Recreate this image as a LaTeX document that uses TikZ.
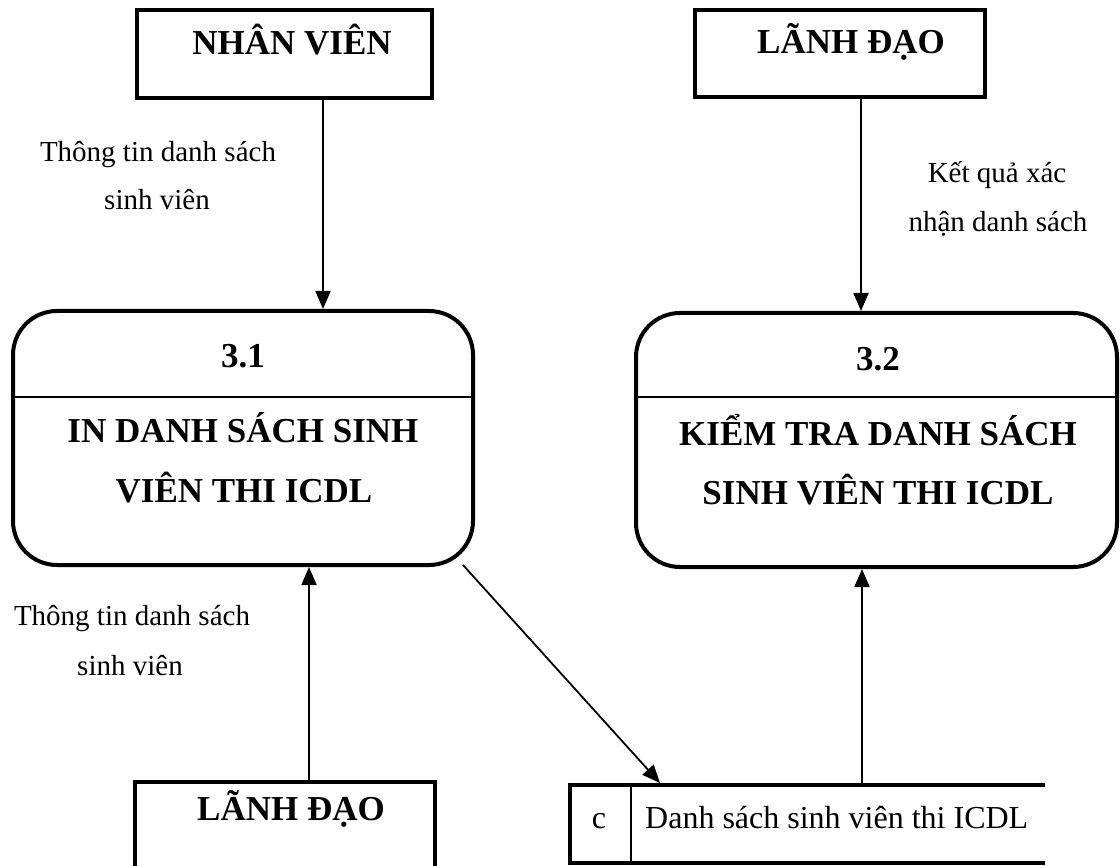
\documentclass[tikz,border=0pt]{standalone}
\usepackage{fontspec}
\setmainfont{Liberation Serif}
\usetikzlibrary{arrows.meta}
\begin{document}
\begin{tikzpicture}[x=1pt,y=-1pt,
  entbox/.style={draw,line width=4pt,rectangle,inner sep=0pt},
  procbox/.style={draw,line width=4pt,rectangle,rounded corners=44pt,inner sep=0pt},
  bigtxt/.style={font=\fontsize{35}{40}\selectfont\bfseries,inner sep=0pt,anchor=base},
  lbltxt/.style={font=\fontsize{29}{34}\selectfont,inner sep=0pt,anchor=base},
  storetxt/.style={font=\fontsize{32}{38}\selectfont,inner sep=0pt,anchor=base},
  flow/.style={line width=1.8pt,-{Triangle[length=18pt,width=15pt]}}]
\useasboundingbox (0,0) rectangle (1120,866);
% entity boxes
\node[entbox,minimum width=295pt,minimum height=88pt] (nv) at (284.5,54) {};
\node[bigtxt] (nvt) at (292,55) {NHÂN VIÊN};
\node[entbox,minimum width=290pt,minimum height=87pt] (ld1) at (840,53.5) {};
\node[bigtxt] (ld1t) at (851,54) {LÃNH ĐẠO};
\node[entbox,minimum width=300pt,minimum height=100pt] (ld2) at (285,832) {};
\node[bigtxt] (ld2t) at (291,820) {LÃNH ĐẠO};
% process boxes
\node[procbox,minimum width=460pt,minimum height=254pt] (p1) at (243,438) {};
\draw[line width=2pt] (p1.west |- 0,397) -- (p1.east |- 0,397);
\node[bigtxt] (p1a) at (243,368) {3.1};
\node[bigtxt] (p1b) at (243,443) {IN DANH SÁCH SINH};
\node[bigtxt] (p1c) at (244,503) {VIÊN THI ICDL};
\node[procbox,minimum width=481pt,minimum height=254pt] (p2) at (876.5,440) {};
\draw[line width=2pt] (p2.west |- 0,397) -- (p2.east |- 0,397);
\node[bigtxt] (p2a) at (878,371) {3.2};
\node[bigtxt] (p2b) at (878,446) {KIỂM TRA DANH SÁCH};
\node[bigtxt] (p2c) at (878,505) {SINH VIÊN THI ICDL};
% data store
\coordinate (sTL) at (570,785);
\coordinate (sTR) at (1045,785);
\coordinate (sBL) at (570,863);
\coordinate (sBR) at (1045,863);
\draw[line width=4pt] (sTR) -- (sTL) -- (sBL) -- (sBR);
\draw[line width=1.5pt] (631,785) -- (631,863);
\node[storetxt] (sc) at (599,828) {c};
\node[storetxt,anchor=base west] (sn) at (645,828) {Danh sách sinh viên thi ICDL};
\coordinate (sIn) at (660,783);
\coordinate (sOut) at (862,783);
% labels
\node[lbltxt] (l1a) at (158,162) {Thông tin danh sách};
\node[lbltxt] (l1b) at (157,210) {sinh viên};
\node[lbltxt] (l2a) at (997,183) {Kết quả xác};
\node[lbltxt] (l2b) at (998,232) {nhận danh sách};
\node[lbltxt] (l3a) at (132,625) {Thông tin danh sách};
\node[lbltxt] (l3b) at (130,675) {sinh viên};
% flows
\draw[flow] (nv.south -| 323,0) -- (p1.north -| 323,0);
\draw[flow] (ld1.south -| 861,0) -- (p2.north -| 861,0);
\draw[flow] (ld2.north -| 309,0) -- (p1.south -| 309,0);
\draw[flow] (463,565) -- (sIn);
\draw[flow] (sOut) -- (p2.south -| 862,0);
\end{tikzpicture}
\end{document}
